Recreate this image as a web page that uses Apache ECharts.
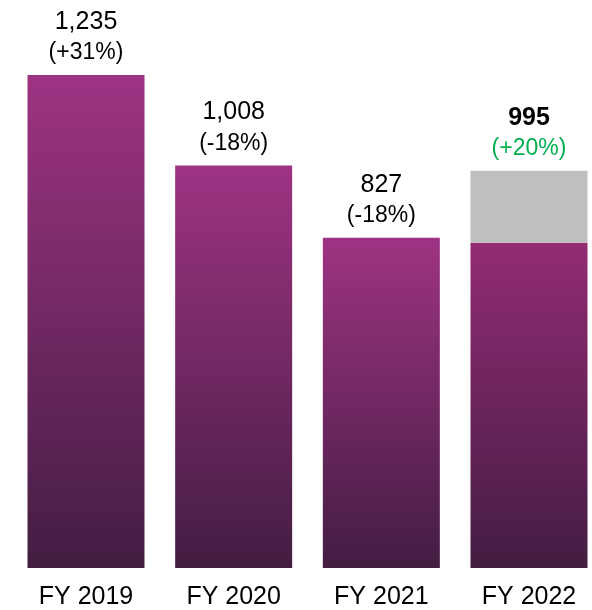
<!DOCTYPE html>
<html>
<head>
<meta charset="utf-8">
<script src="https://cdn.jsdelivr.net/npm/echarts@6/dist/echarts.min.js"></script>
<style>
  html, body { margin: 0; padding: 0; background: #fff; }
  #chart { width: 592px; height: 610px; }
</style>
</head>
<body>
<div id="chart"></div>
<script>
var years = ['FY 2019', 'FY 2020', 'FY 2021', 'FY 2022'];
var baseValues = [1235, 1008, 827, 815];
var extraValues = [0, 0, 0, 180];
var totalLabels = ['1,235', '1,008', '827', '995'];
var changeLabels = ['(+31%)', '(-18%)', '(-18%)', '(+20%)'];

var chart = echarts.init(document.getElementById('chart'));

function gradient(top) {
    return new echarts.graphic.LinearGradient(0, 0, 0, 1, [
        { offset: 0, color: top },
        { offset: 1, color: '#431d42' }
    ]);
}

function labelFor(i) {
    var last = i === years.length - 1;
    return {
        show: true,
        position: 'top',
        distance: 7,
        formatter: '{v|' + totalLabels[i] + '}\n{p|' + changeLabels[i] + '}',
        rich: {
            v: {
                fontFamily: 'Liberation Sans',
                fontSize: 25,
                fontWeight: last ? 'bold' : 'normal',
                color: '#000',
                lineHeight: 32
            },
            p: {
                fontFamily: 'Liberation Sans',
                fontSize: 23,
                color: last ? '#00b050' : '#000',
                lineHeight: 30
            }
        }
    };
}

var baseData = baseValues.map(function (v, i) {
    var d = { value: v };
    if (extraValues[i] === 0) {
        d.label = labelFor(i);
    } else {
        d.itemStyle = { color: gradient('#922b74') };
    }
    return d;
});
var extraData = extraValues.map(function (v, i) {
    var d = { value: v };
    if (v > 0) d.label = labelFor(i);
    return d;
});

var option = {
    animation: false,
    grid: { left: 86, top: 69, width: 443, height: 499 },
    xAxis: {
        type: 'category',
        data: years,
        boundaryGap: false,
        axisLine: { show: false },
        axisTick: { show: false },
        splitLine: { show: false },
        axisLabel: {
            margin: 17,
            fontFamily: 'Liberation Sans',
            fontSize: 25,
            color: '#000'
        }
    },
    yAxis: {
        type: 'value',
        min: 0,
        max: 1250,
        show: false,
        splitLine: { show: false }
    },
    series: [
        {
            name: 'base',
            type: 'bar',
            stack: 'total',
            barWidth: 117,
            itemStyle: { color: gradient('#9e3383') },
            data: baseData
        },
        {
            name: 'extra',
            type: 'bar',
            stack: 'total',
            barWidth: 117,
            itemStyle: { color: '#bfbfbf' },
            data: extraData
        }
    ]
};

chart.setOption(option);
</script>
</body>
</html>
